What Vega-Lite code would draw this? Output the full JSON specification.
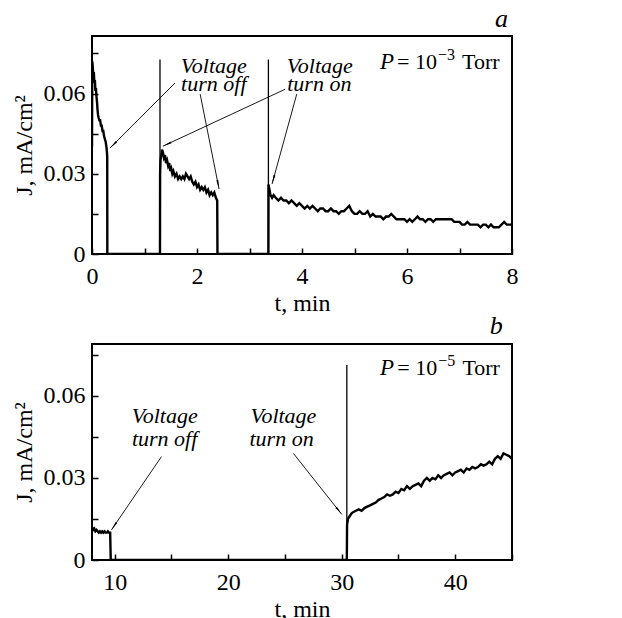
{
  "$schema": "https://vega.github.io/schema/vega-lite/v6.json",
  "background": "white",
  "padding": {"left": 11, "top": 5, "right": 5, "bottom": 5},
  "bounds": "flush",
  "spacing": 90,
  "config": {
    "view": {"stroke": "black", "strokeWidth": 2},
    "font": "Liberation Serif",
    "axis": {
      "domain": false, "grid": false, "tickColor": "black", "tickWidth": 1.5, "tickSize": -6,
      "labelFont": "Liberation Serif", "labelFontSize": 24, "labelColor": "black",
      "titleFont": "Liberation Serif", "titleFontSize": 24, "titleFontWeight": "normal", "titleColor": "black",
      "labelFlush": false, "labelOverlap": false, "labelBound": false
    },
    "axisX": {"labelPadding": 16, "titlePadding": 3},
    "axisY": {"labelPadding": 13, "titlePadding": 7},
    "title": {"font": "Liberation Serif", "fontStyle": "italic", "fontWeight": "normal", "fontSize": 26, "color": "black", "anchor": "end"}
  },
  "datasets": {
    "traceA": [
      {"t":0,"J":0.040},{"t":0.005,"J":0.072},{"t":0.015,"J":0.070},{"t":0.025,"J":0.066},{"t":0.035,"J":0.068},{"t":0.045,"J":0.064},{"t":0.055,"J":0.065},{"t":0.065,"J":0.061},{"t":0.075,"J":0.062},{"t":0.085,"J":0.059},{"t":0.095,"J":0.057},{"t":0.105,"J":0.054},{"t":0.115,"J":0.052},{"t":0.125,"J":0.051},{"t":0.14,"J":0.050},{"t":0.155,"J":0.050},{"t":0.17,"J":0.048},{"t":0.185,"J":0.048},{"t":0.2,"J":0.046},{"t":0.215,"J":0.046},{"t":0.23,"J":0.044},{"t":0.245,"J":0.043},{"t":0.26,"J":0.042},{"t":0.275,"J":0.040},{"t":0.285,"J":0.038},{"t":0.29,"J":0.036},{"t":0.292,"J":0},{"t":1.295,"J":0},
      {"t":1.297,"J":0.030},{"t":1.305,"J":0.035},{"t":1.32,"J":0.037},{"t":1.335,"J":0.039},{"t":1.35,"J":0.038},{"t":1.37,"J":0.036},{"t":1.39,"J":0.037},{"t":1.41,"J":0.034},{"t":1.43,"J":0.035},{"t":1.45,"J":0.033},{"t":1.47,"J":0.034},{"t":1.49,"J":0.031},{"t":1.51,"J":0.032},{"t":1.53,"J":0.030},{"t":1.55,"J":0.031},{"t":1.58,"J":0.029},{"t":1.61,"J":0.030},{"t":1.64,"J":0.028},{"t":1.67,"J":0.029},{"t":1.70,"J":0.028},{"t":1.73,"J":0.029},{"t":1.76,"J":0.028},{"t":1.79,"J":0.030},{"t":1.82,"J":0.029},{"t":1.85,"J":0.028},{"t":1.88,"J":0.029},{"t":1.91,"J":0.027},{"t":1.94,"J":0.026},{"t":1.97,"J":0.027},{"t":2.0,"J":0.025},{"t":2.03,"J":0.026},{"t":2.06,"J":0.024},{"t":2.09,"J":0.025},{"t":2.12,"J":0.024},{"t":2.15,"J":0.025},{"t":2.18,"J":0.023},{"t":2.21,"J":0.024},{"t":2.24,"J":0.022},{"t":2.27,"J":0.023},{"t":2.30,"J":0.022},{"t":2.33,"J":0.023},{"t":2.36,"J":0.021},{"t":2.385,"J":0.020},{"t":2.39,"J":0},{"t":3.36,"J":0},
      {"t":3.362,"J":0.026},{"t":3.38,"J":0.024},{"t":3.40,"J":0.022},{"t":3.43,"J":0.021},{"t":3.46,"J":0.022},{"t":3.50,"J":0.021},{"t":3.55,"J":0.020},{"t":3.60,"J":0.021},{"t":3.65,"J":0.020},{"t":3.70,"J":0.020},{"t":3.75,"J":0.019},{"t":3.80,"J":0.020},{"t":3.85,"J":0.019},{"t":3.90,"J":0.018},{"t":3.95,"J":0.019},{"t":4.00,"J":0.018},{"t":4.05,"J":0.017},{"t":4.10,"J":0.018},{"t":4.15,"J":0.017},{"t":4.20,"J":0.018},{"t":4.25,"J":0.017},{"t":4.30,"J":0.016},{"t":4.35,"J":0.017},{"t":4.40,"J":0.017},{"t":4.45,"J":0.016},{"t":4.50,"J":0.016},{"t":4.55,"J":0.017},{"t":4.60,"J":0.016},{"t":4.65,"J":0.016},{"t":4.70,"J":0.015},{"t":4.75,"J":0.016},{"t":4.80,"J":0.016},{"t":4.85,"J":0.017},{"t":4.90,"J":0.018},{"t":4.95,"J":0.016},{"t":5.00,"J":0.015},{"t":5.05,"J":0.015},{"t":5.10,"J":0.016},{"t":5.15,"J":0.015},{"t":5.20,"J":0.015},{"t":5.25,"J":0.016},{"t":5.30,"J":0.014},{"t":5.35,"J":0.015},{"t":5.40,"J":0.014},{"t":5.45,"J":0.014},{"t":5.50,"J":0.014},{"t":5.55,"J":0.013},{"t":5.60,"J":0.014},{"t":5.65,"J":0.014},{"t":5.70,"J":0.015},{"t":5.75,"J":0.014},{"t":5.80,"J":0.013},{"t":5.85,"J":0.013},{"t":5.90,"J":0.013},{"t":5.95,"J":0.013},{"t":6.00,"J":0.012},{"t":6.05,"J":0.013},{"t":6.10,"J":0.012},{"t":6.15,"J":0.013},{"t":6.20,"J":0.014},{"t":6.25,"J":0.013},{"t":6.30,"J":0.013},{"t":6.35,"J":0.012},{"t":6.40,"J":0.013},{"t":6.45,"J":0.013},{"t":6.50,"J":0.012},{"t":6.55,"J":0.013},{"t":6.60,"J":0.013},{"t":6.65,"J":0.013},{"t":6.70,"J":0.013},{"t":6.75,"J":0.013},{"t":6.80,"J":0.013},{"t":6.85,"J":0.013},{"t":6.90,"J":0.012},{"t":6.95,"J":0.012},{"t":7.00,"J":0.012},{"t":7.05,"J":0.011},{"t":7.10,"J":0.011},{"t":7.15,"J":0.012},{"t":7.20,"J":0.011},{"t":7.25,"J":0.011},{"t":7.30,"J":0.011},{"t":7.35,"J":0.011},{"t":7.40,"J":0.010},{"t":7.45,"J":0.011},{"t":7.50,"J":0.011},{"t":7.55,"J":0.010},{"t":7.60,"J":0.011},{"t":7.65,"J":0.010},{"t":7.70,"J":0.010},{"t":7.75,"J":0.010},{"t":7.80,"J":0.011},{"t":7.85,"J":0.012},{"t":7.90,"J":0.011},{"t":7.95,"J":0.011},{"t":8.0,"J":0.011}
    ],
    "traceB": [
      {"t":8.0,"J":0.012},{"t":8.1,"J":0.011},{"t":8.2,"J":0.0115},{"t":8.3,"J":0.0105},{"t":8.4,"J":0.011},{"t":8.5,"J":0.0105},{"t":8.6,"J":0.010},{"t":8.7,"J":0.0105},{"t":8.8,"J":0.010},{"t":8.9,"J":0.0105},{"t":9.0,"J":0.010},{"t":9.1,"J":0.0105},{"t":9.2,"J":0.010},{"t":9.3,"J":0.010},{"t":9.4,"J":0.0105},{"t":9.5,"J":0.010},{"t":9.6,"J":0.010},{"t":9.65,"J":0},{"t":30.45,"J":0},
      {"t":30.47,"J":0.013},{"t":30.55,"J":0.015},{"t":30.7,"J":0.016},{"t":30.85,"J":0.017},{"t":31.0,"J":0.0175},{"t":31.25,"J":0.018},{"t":31.5,"J":0.0185},{"t":31.75,"J":0.018},{"t":32.0,"J":0.019},{"t":32.25,"J":0.0195},{"t":32.5,"J":0.020},{"t":32.75,"J":0.0205},{"t":33.0,"J":0.021},{"t":33.25,"J":0.022},{"t":33.5,"J":0.0225},{"t":33.75,"J":0.023},{"t":34.0,"J":0.024},{"t":34.25,"J":0.0235},{"t":34.5,"J":0.024},{"t":34.75,"J":0.025},{"t":35.0,"J":0.0245},{"t":35.25,"J":0.026},{"t":35.5,"J":0.0255},{"t":35.75,"J":0.027},{"t":36.0,"J":0.026},{"t":36.25,"J":0.027},{"t":36.5,"J":0.0275},{"t":36.75,"J":0.028},{"t":37.0,"J":0.027},{"t":37.25,"J":0.029},{"t":37.5,"J":0.030},{"t":37.75,"J":0.029},{"t":38.0,"J":0.030},{"t":38.25,"J":0.0295},{"t":38.5,"J":0.031},{"t":38.75,"J":0.030},{"t":39.0,"J":0.031},{"t":39.25,"J":0.0315},{"t":39.5,"J":0.032},{"t":39.75,"J":0.031},{"t":40.0,"J":0.032},{"t":40.25,"J":0.0325},{"t":40.5,"J":0.033},{"t":40.75,"J":0.032},{"t":41.0,"J":0.0335},{"t":41.25,"J":0.033},{"t":41.5,"J":0.034},{"t":41.75,"J":0.0335},{"t":42.0,"J":0.034},{"t":42.25,"J":0.035},{"t":42.5,"J":0.0345},{"t":42.75,"J":0.035},{"t":43.0,"J":0.036},{"t":43.25,"J":0.035},{"t":43.5,"J":0.037},{"t":43.75,"J":0.038},{"t":44.0,"J":0.037},{"t":44.25,"J":0.039},{"t":44.5,"J":0.0385},{"t":44.75,"J":0.038},{"t":45.0,"J":0.037}
    ],
    "spikesA": [{"t":1.295,"J":0.0727},{"t":3.36,"J":0.0727}],
    "spikesB": [{"t":30.45,"J":0.0713}],
    "arrowsA": [
      {"id":"a1","t":1.58,"J":0.0639,"t2":0.343,"J2":0.0396},
      {"id":"a2","t":2.06,"J":0.0598,"t2":2.42,"J2":0.0243},
      {"id":"a3","t":3.68,"J":0.0616,"t2":1.35,"J2":0.0403},
      {"id":"a4","t":3.90,"J":0.0598,"t2":3.43,"J2":0.0262}
    ],
    "arrowsB": [
      {"id":"b1","t":14.12,"J":0.0378,"t2":9.71,"J2":0.011},
      {"id":"b2","t":25.74,"J":0.039,"t2":30.0,"J2":0.0167}
    ],
    "labelsA": [
      {"t":2.32,"J":0.0677,"label":"Voltage"},{"t":2.32,"J":0.0609,"label":"turn off"},
      {"t":4.34,"J":0.0677,"label":"Voltage"},{"t":4.33,"J":0.0609,"label":"turn on"}
    ],
    "labelsB": [
      {"t":14.41,"J":0.050,"label":"Voltage"},{"t":14.4,"J":0.0416,"label":"turn off"},
      {"t":24.86,"J":0.050,"label":"Voltage"},{"t":24.7,"J":0.0416,"label":"turn on"}
    ],
    "pressA": [
      {"part":"P","t":5.752,"J":0.0691,"label":"P"},
      {"part":"main","t":5.81,"J":0.0691,"label":"= 10"},
      {"part":"sup","t":6.59,"J":0.0691,"label":"−3"},
      {"part":"unit","t":7.048,"J":0.0691,"label":"Torr"}
    ],
    "pressB": [
      {"part":"P","t":34.62,"J":0.0677,"label":"P"},
      {"part":"main","t":34.89,"J":0.0677,"label":"= 10"},
      {"part":"sup","t":38.51,"J":0.0677,"label":"−5"},
      {"part":"unit","t":40.63,"J":0.0677,"label":"Torr"}
    ]
  },
  "vconcat": [
    {
      "width": 420, "height": 218,
      "title": {"text": "a", "offset": 4, "dx": -10},
      "layer": [
        {
          "data": {"name": "traceA"},
          "mark": {"type": "line", "color": "black", "strokeWidth": 2.4, "clip": true},
          "encoding": {
            "x": {"field": "t", "type": "quantitative", "title": "t, min",
                  "scale": {"domain": [0, 8], "nice": false},
                  "axis": {"values": [0,1,2,3,4,5,6,7,8], "labelExpr": "datum.value % 2 == 0 ? datum.label : ''"}},
            "y": {"field": "J", "type": "quantitative", "title": "J, mA/cm²",
                  "scale": {"domain": [0, 0.0815], "nice": false},
                  "axis": {"values": [0,0.015,0.03,0.045,0.06,0.075], "labelExpr": "datum.value == 0 ? '0' : (abs(datum.value-0.03) < 1e-6 ? '0.03' : (abs(datum.value-0.06) < 1e-6 ? '0.06' : ''))"}},
            "order": {"value": null}
          }
        },
        {
          "data": {"name": "spikesA"},
          "mark": {"type": "rule", "color": "black", "strokeWidth": 1.3},
          "encoding": {"x": {"field": "t", "type": "quantitative"}, "y": {"field": "J", "type": "quantitative"}, "y2": {"datum": 0}}
        },
        {
          "data": {"name": "arrowsA"},
          "mark": {"type": "rule", "color": "black", "strokeWidth": 0.9},
          "encoding": {"x": {"field": "t", "type": "quantitative"}, "y": {"field": "J", "type": "quantitative"}, "x2": {"field": "t2"}, "y2": {"field": "J2"}}
        },
        {"data": {"name": "arrowsA"}, "transform": [{"filter": "datum.id == 'a1'"}],
         "mark": {"type": "point", "shape": "M0,0L0.22,2L-0.22,2Z", "filled": true, "color": "black", "opacity": 1, "size": 81, "angle": 225},
         "encoding": {"x": {"field": "t2", "type": "quantitative"}, "y": {"field": "J2", "type": "quantitative"}}},
        {"data": {"name": "arrowsA"}, "transform": [{"filter": "datum.id == 'a2'"}],
         "mark": {"type": "point", "shape": "M0,0L0.22,2L-0.22,2Z", "filled": true, "color": "black", "opacity": 1, "size": 81, "angle": 169},
         "encoding": {"x": {"field": "t2", "type": "quantitative"}, "y": {"field": "J2", "type": "quantitative"}}},
        {"data": {"name": "arrowsA"}, "transform": [{"filter": "datum.id == 'a3'"}],
         "mark": {"type": "point", "shape": "M0,0L0.22,2L-0.22,2Z", "filled": true, "color": "black", "opacity": 1, "size": 81, "angle": 245},
         "encoding": {"x": {"field": "t2", "type": "quantitative"}, "y": {"field": "J2", "type": "quantitative"}}},
        {"data": {"name": "arrowsA"}, "transform": [{"filter": "datum.id == 'a4'"}],
         "mark": {"type": "point", "shape": "M0,0L0.22,2L-0.22,2Z", "filled": true, "color": "black", "opacity": 1, "size": 81, "angle": 195.5},
         "encoding": {"x": {"field": "t2", "type": "quantitative"}, "y": {"field": "J2", "type": "quantitative"}}},
        {
          "data": {"name": "labelsA"},
          "mark": {"type": "text", "font": "Liberation Serif", "fontStyle": "italic", "fontSize": 22, "color": "black", "align": "center", "baseline": "alphabetic"},
          "encoding": {"x": {"field": "t", "type": "quantitative"}, "y": {"field": "J", "type": "quantitative"}, "text": {"field": "label"}}
        },
        {
          "data": {"name": "pressA"}, "transform": [{"filter": "datum.part == 'P'"}],
          "mark": {"type": "text", "font": "Liberation Serif", "fontStyle": "italic", "fontSize": 23, "color": "black", "align": "right", "baseline": "alphabetic"},
          "encoding": {"x": {"field": "t", "type": "quantitative"}, "y": {"field": "J", "type": "quantitative"}, "text": {"field": "label"}}
        },
        {
          "data": {"name": "pressA"}, "transform": [{"filter": "datum.part == 'main' || datum.part == 'unit'"}],
          "mark": {"type": "text", "font": "Liberation Serif", "fontSize": 22, "color": "black", "align": "left", "baseline": "alphabetic"},
          "encoding": {"x": {"field": "t", "type": "quantitative"}, "y": {"field": "J", "type": "quantitative"}, "text": {"field": "label"}}
        },
        {
          "data": {"name": "pressA"}, "transform": [{"filter": "datum.part == 'sup'"}],
          "mark": {"type": "text", "font": "Liberation Serif", "fontSize": 16, "color": "black", "align": "left", "baseline": "alphabetic", "dy": -9},
          "encoding": {"x": {"field": "t", "type": "quantitative"}, "y": {"field": "J", "type": "quantitative"}, "text": {"field": "label"}}
        }
      ]
    },
    {
      "width": 420, "height": 216,
      "title": {"text": "b", "offset": 4, "dx": -10},
      "layer": [
        {
          "data": {"name": "traceB"},
          "mark": {"type": "line", "color": "black", "strokeWidth": 2.4, "clip": true},
          "encoding": {
            "x": {"field": "t", "type": "quantitative", "title": "t, min",
                  "scale": {"domain": [8, 45], "nice": false, "zero": false},
                  "axis": {"values": [10,15,20,25,30,35,40,45], "labelExpr": "datum.value % 10 == 0 ? datum.label : ''"}},
            "y": {"field": "J", "type": "quantitative", "title": "J, mA/cm²",
                  "scale": {"domain": [0, 0.079], "nice": false},
                  "axis": {"values": [0,0.015,0.03,0.045,0.06,0.075], "labelExpr": "datum.value == 0 ? '0' : (abs(datum.value-0.03) < 1e-6 ? '0.03' : (abs(datum.value-0.06) < 1e-6 ? '0.06' : ''))"}},
            "order": {"value": null}
          }
        },
        {
          "data": {"name": "spikesB"},
          "mark": {"type": "rule", "color": "black", "strokeWidth": 1.3},
          "encoding": {"x": {"field": "t", "type": "quantitative"}, "y": {"field": "J", "type": "quantitative"}, "y2": {"datum": 0}}
        },
        {
          "data": {"name": "arrowsB"},
          "mark": {"type": "rule", "color": "black", "strokeWidth": 0.9},
          "encoding": {"x": {"field": "t", "type": "quantitative"}, "y": {"field": "J", "type": "quantitative"}, "x2": {"field": "t2"}, "y2": {"field": "J2"}}
        },
        {"data": {"name": "arrowsB"}, "transform": [{"filter": "datum.id == 'b1'"}],
         "mark": {"type": "point", "shape": "M0,0L0.22,2L-0.22,2Z", "filled": true, "color": "black", "opacity": 1, "size": 81, "angle": 214},
         "encoding": {"x": {"field": "t2", "type": "quantitative"}, "y": {"field": "J2", "type": "quantitative"}}},
        {"data": {"name": "arrowsB"}, "transform": [{"filter": "datum.id == 'b2'"}],
         "mark": {"type": "point", "shape": "M0,0L0.22,2L-0.22,2Z", "filled": true, "color": "black", "opacity": 1, "size": 81, "angle": 141.6},
         "encoding": {"x": {"field": "t2", "type": "quantitative"}, "y": {"field": "J2", "type": "quantitative"}}},
        {
          "data": {"name": "labelsB"},
          "mark": {"type": "text", "font": "Liberation Serif", "fontStyle": "italic", "fontSize": 22, "color": "black", "align": "center", "baseline": "alphabetic"},
          "encoding": {"x": {"field": "t", "type": "quantitative"}, "y": {"field": "J", "type": "quantitative"}, "text": {"field": "label"}}
        },
        {
          "data": {"name": "pressB"}, "transform": [{"filter": "datum.part == 'P'"}],
          "mark": {"type": "text", "font": "Liberation Serif", "fontStyle": "italic", "fontSize": 23, "color": "black", "align": "right", "baseline": "alphabetic"},
          "encoding": {"x": {"field": "t", "type": "quantitative"}, "y": {"field": "J", "type": "quantitative"}, "text": {"field": "label"}}
        },
        {
          "data": {"name": "pressB"}, "transform": [{"filter": "datum.part == 'main' || datum.part == 'unit'"}],
          "mark": {"type": "text", "font": "Liberation Serif", "fontSize": 22, "color": "black", "align": "left", "baseline": "alphabetic"},
          "encoding": {"x": {"field": "t", "type": "quantitative"}, "y": {"field": "J", "type": "quantitative"}, "text": {"field": "label"}}
        },
        {
          "data": {"name": "pressB"}, "transform": [{"filter": "datum.part == 'sup'"}],
          "mark": {"type": "text", "font": "Liberation Serif", "fontSize": 16, "color": "black", "align": "left", "baseline": "alphabetic", "dy": -9},
          "encoding": {"x": {"field": "t", "type": "quantitative"}, "y": {"field": "J", "type": "quantitative"}, "text": {"field": "label"}}
        }
      ]
    }
  ]
}
